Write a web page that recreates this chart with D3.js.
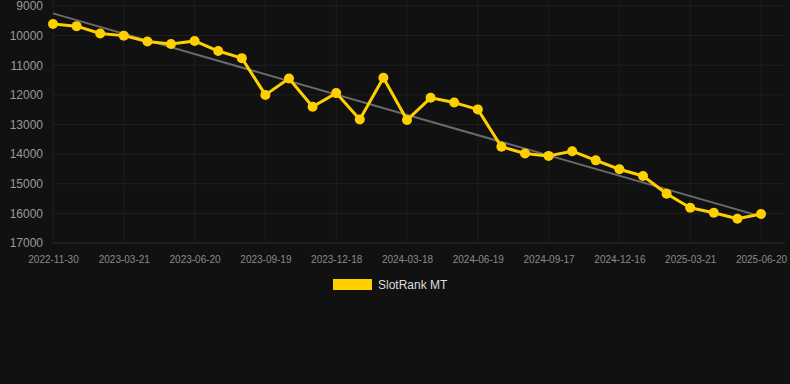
<!DOCTYPE html>
<html><head><meta charset="utf-8">
<script src="https://cdn.jsdelivr.net/npm/d3@7"></script>
<style>html,body{margin:0;padding:0;background:#111111;}svg{display:block;}</style>
</head><body>
<script>
const dates = ["2022-11-30","2023-01-06","2023-02-12","2023-03-21","2023-04-20","2023-05-20","2023-06-20","2023-07-20","2023-08-19","2023-09-19","2023-10-19","2023-11-18","2023-12-18","2024-01-17","2024-02-16","2024-03-18","2024-04-18","2024-05-19","2024-06-19","2024-07-19","2024-08-18","2024-09-17","2024-10-17","2024-11-16","2024-12-16","2025-01-19","2025-02-19","2025-03-21","2025-04-20","2025-05-20","2025-06-20"];
const ranks = [9610,9680,9930,10000,10200,10280,10180,10520,10760,12000,11450,12400,11940,12830,11420,12850,12100,12260,12490,13750,13980,14060,13900,14210,14510,14740,15340,15810,15980,16180,16020];
const trendEnds = [9250,16100];
const yTicks = [9000,10000,11000,12000,13000,14000,15000,16000,17000];
const xTickLabels = ["2022-11-30","2023-03-21","2023-06-20","2023-09-19","2023-12-18","2024-03-18","2024-06-19","2024-09-17","2024-12-16","2025-03-21","2025-06-20"];
const seriesName = "SlotRank MT";

const W = 790, H = 384;
const svg = d3.select("body").append("svg").attr("width", W).attr("height", H).style("background", "#111111");
const x = d3.scalePoint().domain(dates).range([53, 761]);
const y = d3.scaleLinear().domain([9000, 17000]).range([6, 243]);
const font = "'Liberation Sans', Arial, sans-serif";

// horizontal grid
svg.append("g").selectAll("line").data(yTicks).join("line")
  .attr("x1", 53).attr("x2", 785).attr("y1", d => y(d)).attr("y2", d => y(d))
  .attr("stroke", d => d === 17000 ? "#2e2e2e" : "#202020").attr("stroke-width", 1);
// vertical grid
svg.append("g").selectAll("line").data(xTickLabels).join("line")
  .attr("x1", d => x(d)).attr("x2", d => x(d)).attr("y1", 0).attr("y2", 243)
  .attr("stroke", "#1e1e1e").attr("stroke-width", 1);

// y axis labels
const yAxis = d3.axisLeft(y).tickValues(yTicks).tickSize(0).tickPadding(0).tickFormat(d3.format("d"));
const gy = svg.append("g").attr("transform", "translate(43,0)").call(yAxis);
gy.select(".domain").remove();
gy.selectAll("text").attr("fill", "#9a9a9a").style("font-family", font).style("font-size", "12px");

// x axis labels
const xAxis = d3.axisBottom(x).tickValues(xTickLabels).tickSize(0).tickPadding(0);
const gx = svg.append("g").attr("transform", "translate(0,259)").call(xAxis);
gx.select(".domain").remove();
gx.selectAll("text").attr("fill", "#8a8a8a").attr("dy", "0.35em").style("font-family", font).style("font-size", "10px");

// trend line
svg.append("line")
  .attr("x1", x(dates[0])).attr("y1", y(trendEnds[0]))
  .attr("x2", x(dates[dates.length - 1])).attr("y2", y(trendEnds[1]))
  .attr("stroke", "#6a6a6a").attr("stroke-width", 2);

// series line
const pts = dates.map((d, i) => [d, ranks[i]]);
svg.append("path").datum(pts)
  .attr("d", d3.line().x(d => x(d[0])).y(d => y(d[1])))
  .attr("fill", "none").attr("stroke", "#FFD000").attr("stroke-width", 3).attr("stroke-linejoin", "round");
svg.append("g").selectAll("circle").data(pts).join("circle")
  .attr("cx", d => x(d[0])).attr("cy", d => y(d[1])).attr("r", 5).attr("fill", "#FFD000");

// legend
const lg = svg.append("g");
lg.append("rect").attr("x", 333).attr("y", 279).attr("width", 39).attr("height", 11).attr("fill", "#FFD000");
lg.append("text").attr("x", 378).attr("y", 285).attr("dy", "0.35em").text(seriesName)
  .attr("fill", "#dddddd").style("font-family", font).style("font-size", "12px");
</script>
</body></html>
